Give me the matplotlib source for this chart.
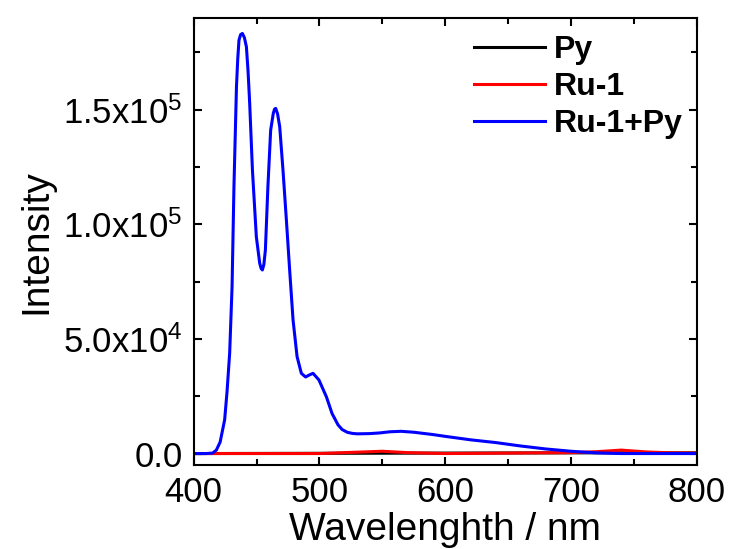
import matplotlib
matplotlib.use("Agg")
import matplotlib.pyplot as plt
from matplotlib.ticker import MultipleLocator, FuncFormatter

plt.rcParams['font.family'] = ['Liberation Sans', 'DejaVu Sans']
plt.rcParams['mathtext.default'] = 'regular'

# Ru-1+Py emission
wl_mix = [400, 410, 415, 418, 421, 424.6, 426.5, 428.6, 430.5, 432, 434, 435,
          436, 437.3, 438.7, 440.3, 441.9, 443.2, 444.5, 446.7, 449.8, 452.5,
          453.6, 454.6, 455.8, 457, 459, 461.2, 463.3, 464.3, 465.2, 466.7,
          468.4, 471, 473.7, 476.3, 479, 482.2, 485.6, 489, 492, 494.9, 499.6,
          505.5, 510, 514.8, 518, 522, 526, 530, 540, 548, 556, 565, 575, 590,
          600, 620, 640, 660, 680, 700, 720, 740, 760, 800]
int_mix = [0, 0, 200, 1500, 5000, 14700, 27000, 43900, 72800, 116400, 160000,
           172000, 180400, 182800, 183300, 181500, 177500, 167000, 153000,
           123700, 94600, 83000, 80800, 80100, 82500, 88800, 116400, 141100,
           148500, 150300, 150600, 148200, 142600, 123700, 101900, 80100,
           58300, 42300, 35000, 33400, 34300, 35000, 32100, 24800, 17500, 12500,
           10500, 9300, 8800, 8600, 8700, 9000, 9500, 9700, 9300, 8300, 7500,
           6000, 4800, 3300, 2000, 1000, 300, 0, 0, 0]

# Ru-1
wl_ru = [400, 500, 530, 550, 570, 600, 650, 700, 720, 740, 760, 780, 800]
int_ru = [0, 0, 600, 1000, 400, 0, 200, 400, 800, 1500, 700, 300, 200]

# Py
wl_py = [400, 500, 600, 700, 800]
int_py = [0, 100, 200, 300, 300]

fig = plt.figure(figsize=(7.31, 5.49), dpi=100)
ax = fig.add_axes([0.265, 0.153, 0.688, 0.814])

ax.plot(wl_py, int_py, color='black', lw=2.2, label='Py')
ax.plot(wl_ru, int_ru, color='red', lw=2.2, label='Ru-1')
ax.plot(wl_mix, int_mix, color='blue', lw=2.2, label='Ru-1+Py')

ax.set_xlim(400, 800)
ax.set_ylim(-5000, 190000)

ax.xaxis.set_major_locator(MultipleLocator(100))
ax.xaxis.set_minor_locator(MultipleLocator(50))
ax.yaxis.set_major_locator(MultipleLocator(50000))
ax.yaxis.set_minor_locator(MultipleLocator(25000))


def sci_fmt(v, pos):
    if v == 0:
        return '0.0'
    e = len(str(int(abs(v)))) - 1
    m = v / 10 ** e
    return f'{m:.1f}x10$^{{{e}}}$'


ax.yaxis.set_major_formatter(FuncFormatter(sci_fmt))

ax.tick_params(which='both', direction='in', top=True, right=True, width=1.5)
ax.tick_params(which='major', length=6, labelsize=25, pad=8)
ax.tick_params(which='minor', length=4)
for s in ax.spines.values():
    s.set_linewidth(1.5)

ax.set_xlabel('Wavelenghth / nm', fontsize=28, labelpad=2)
ax.set_ylabel('Intensity', fontsize=28, labelpad=6)

leg = ax.legend(loc='upper right', frameon=False, prop={'weight': 'bold', 'size': 23},
                handlelength=2.2, handletextpad=0.28, labelspacing=0.22,
                borderaxespad=0.0, bbox_to_anchor=(0.997, 0.99))

fig.savefig('out.png', dpi=100)
